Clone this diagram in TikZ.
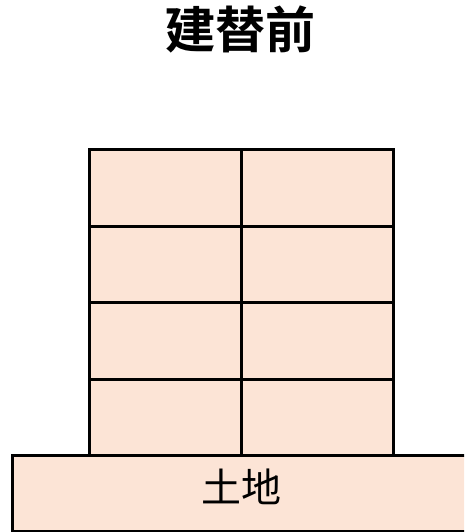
\documentclass[tikz,border=0pt]{standalone}
\usepackage{fontspec}
\newfontfamily\cjk{Noto Sans CJK JP}
\newfontfamily\cjkbold{Noto Sans CJK JP Bold}
\definecolor{peach}{RGB}{252,228,214}
\tikzset{
  cell/.style={draw=black, fill=peach, line width=3pt, minimum width=152pt, minimum height=76.5pt, inner sep=0pt, anchor=north west},
  landbox/.style={draw=black, fill=peach, line width=3pt, minimum width=470pt, minimum height=76pt, inner sep=0pt, anchor=north west},
  titletext/.style={font=\cjkbold\fontsize{50}{54}\selectfont, inner sep=0pt},
  landtext/.style={font=\cjk\fontsize{40}{44}\selectfont, inner sep=0pt}
}
\begin{document}
\begin{tikzpicture}[x=1pt,y=-1pt]
\useasboundingbox (0,0) rectangle (464,532);
\clip (0,0) rectangle (464,532);
\fill[white] (0,0) rectangle (464,532);
\node[titletext] (title) at (240,30) {建替前};
\node[landbox] (land) at (10.5,454) {};
\node[landtext] (landlabel) at (241.5,487) {土地};
\node[cell] (c11) at (88,148) {};
\node[cell] (c12) at (240,148) {};
\node[cell] (c21) at (88,224.5) {};
\node[cell] (c22) at (240,224.5) {};
\node[cell] (c31) at (88,301) {};
\node[cell] (c32) at (240,301) {};
\node[cell] (c41) at (88,377.5) {};
\node[cell] (c42) at (240,377.5) {};
\end{tikzpicture}
\end{document}
